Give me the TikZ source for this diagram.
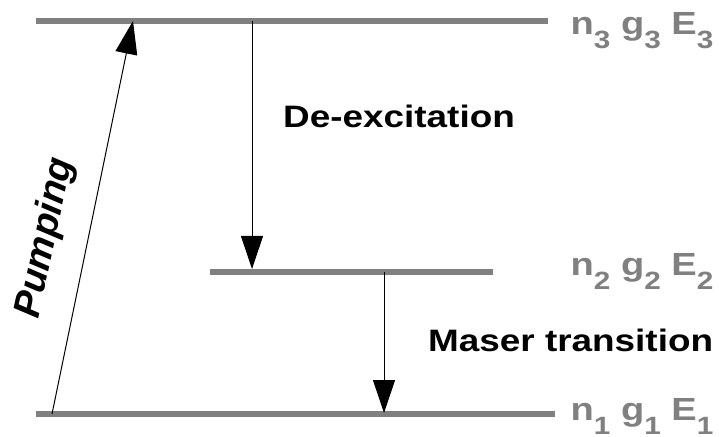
\documentclass[tikz,border=0pt]{standalone}
\usepackage{fontspec}
\setmainfont{Liberation Sans}
\newfontfamily\widebold{Liberation Sans}[FakeStretch=1.19,BoldFont=*,UprightFont=* Bold]
\newfontfamily\slantbold{Liberation Sans}[UprightFont=* Bold Italic]
\usetikzlibrary{arrows.meta}
\definecolor{levelgray}{HTML}{808080}
\newcommand{\lvsub}[1]{\raisebox{-14pt}{\fontsize{25}{25}\selectfont #1}}
\tikzset{
  level/.style={draw=levelgray, line width=6pt},
  transarrow/.style={draw=black, line width=1pt, -{Triangle[length=33pt,width=22pt]}},
  statelabel/.style={anchor=base west, inner sep=0pt, text=levelgray,
    font=\widebold\fontsize{32}{36}\selectfont},
  translabel/.style={anchor=base west, inner sep=0pt, text=black,
    font=\widebold\fontsize{31}{36}\selectfont},
}
\begin{document}
\begin{tikzpicture}[x=1pt,y=1pt]
  \useasboundingbox (0,0) rectangle (719,436);
  % energy levels
  \coordinate (l3w) at (36,415);  \coordinate (l3e) at (548,415);
  \coordinate (l2w) at (210,164); \coordinate (l2e) at (493,164);
  \coordinate (l1w) at (36,22);   \coordinate (l1e) at (555,22);
  \draw[level] (l3w) -- (l3e);
  \draw[level] (l2w) -- (l2e);
  \draw[level] (l1w) -- (l1e);
  % arrow end points on the levels
  \coordinate (pumpA) at (52,22);
  \coordinate (pumpB) at (133,415);
  \coordinate (deexA) at (252,415);
  \coordinate (deexB) at (252,167);
  \coordinate (maserA) at (384,164);
  \coordinate (maserB) at (384,23);
  \draw[transarrow] (pumpA) -- (pumpB);
  \draw[transarrow] (deexA) -- (deexB);
  \draw[transarrow] (maserA) -- (maserB);
  % level labels
  \node[statelabel] (lab3) at (570.5,401) {n\lvsub{3} g\lvsub{3} E\lvsub{3}};
  \node[statelabel] (lab2) at (570.5,160) {n\lvsub{2} g\lvsub{2} E\lvsub{2}};
  \node[statelabel] (lab1) at (570.5,16) {n\lvsub{1} g\lvsub{1} E\lvsub{1}};
  % transition labels
  \node[translabel] (deexlab) at (283,308) {De-excitation};
  \node[translabel] (maserlab) at (428,84) {Maser transition};
  \node[inner sep=0pt, rotate=78, font=\slantbold\fontsize{38}{42}\selectfont]
    (pumplab) at (46,198) {Pumping};
\end{tikzpicture}
\end{document}
